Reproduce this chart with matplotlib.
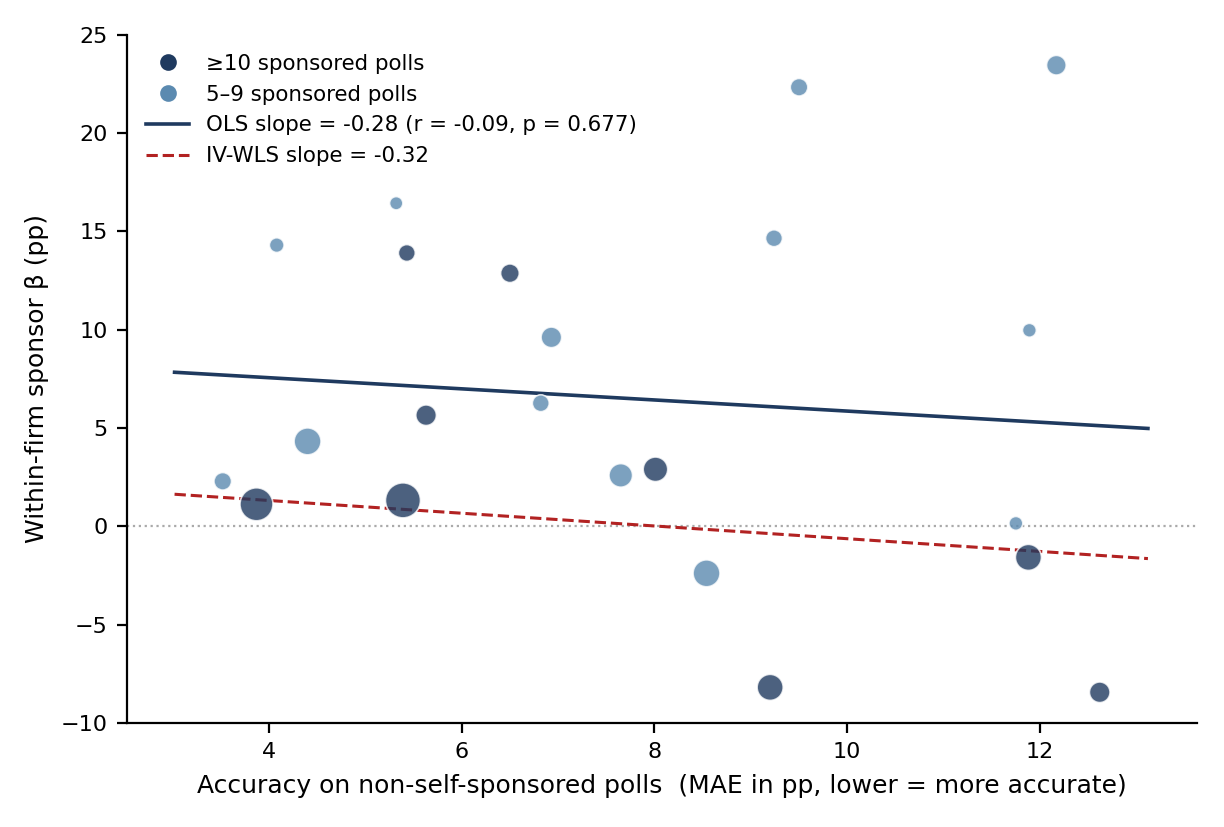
import numpy as np
import matplotlib
matplotlib.use('Agg')
import matplotlib.pyplot as plt
from matplotlib.lines import Line2D

# accuracy (MAE, pp) on non-self-sponsored polls
mae = [3.87, 3.52, 4.08, 4.40, 5.32, 5.43, 5.39, 5.63, 6.50, 6.82, 6.93,
       7.65, 8.01, 8.54, 9.20, 9.24, 9.50, 11.75, 11.89, 11.88, 12.17, 12.62]
# within-firm sponsor beta (pp)
beta = [1.12, 2.29, 14.3, 4.32, 16.43, 13.9, 1.32, 5.65, 12.87, 6.26, 9.61,
        2.59, 2.90, -2.39, -8.19, 14.65, 22.33, 0.15, 9.97, -1.58, 23.45, -8.44]
# precision weight (marker area)
weight = [141, 40, 28, 94, 23, 37, 159, 55, 45, 37, 55,
          72, 78, 94, 88, 37, 40, 25, 25, 88, 50, 55]
# True = >=10 sponsored polls
big = [True, False, False, False, False, True, True, True, True, False, False,
       False, True, False, True, False, False, False, False, True, False, True]

ols_slope, ols_icpt = -0.283, 8.69
wls_slope, wls_icpt = -0.324, 2.61
ols_r, ols_p = -0.09, 0.677

DARK = '#1f3a5f'
LIGHT = '#5b8ab0'

mae = np.array(mae)
beta = np.array(beta)
weight = np.array(weight)
big = np.array(big)

fig = plt.figure(figsize=(6.12, 4.135), dpi=200)
ax = fig.add_axes([0.1038, 0.1258, 0.8742, 0.8322])

ax.axhline(0, color='#aaaaaa', lw=0.8, ls=':', zorder=1)

xs = np.linspace(mae.min() - 0.5, mae.max() + 0.5, 50)
ax.plot(xs, ols_icpt + ols_slope * xs, color=DARK, lw=1.3, zorder=2)
ax.plot(xs, wls_icpt + wls_slope * xs, color='#b22222', lw=1.1, ls='--', zorder=2)

ax.scatter(mae[big], beta[big], s=weight[big], color=DARK, alpha=0.8,
           edgecolor='white', linewidth=0.6, zorder=3)
ax.scatter(mae[~big], beta[~big], s=weight[~big], color=LIGHT, alpha=0.8,
           edgecolor='white', linewidth=0.6, zorder=3)

ax.set_xlim(2.527, 13.63)
ax.set_ylim(-10, 25)
ax.set_xticks([4, 6, 8, 10, 12])
ax.set_yticks([-10, -5, 0, 5, 10, 15, 20, 25])
ax.tick_params(labelsize=8)
ax.spines['top'].set_visible(False)
ax.spines['right'].set_visible(False)
ax.set_xlabel('Accuracy on non-self-sponsored polls  (MAE in pp, lower = more accurate)', fontsize=9)
ax.set_ylabel('Within-firm sponsor β (pp)', fontsize=9)

handles = [
    Line2D([], [], marker='o', ls='none', color=DARK, markersize=5),
    Line2D([], [], marker='o', ls='none', color=LIGHT, markersize=5),
    Line2D([], [], color=DARK, lw=1.3),
    Line2D([], [], color='#b22222', lw=1.1, ls='--'),
]
labels = ['≥10 sponsored polls', '5–9 sponsored polls',
          f'OLS slope = {ols_slope:.2f} (r = {ols_r:.2f}, p = {ols_p:.3f})',
          f'IV-WLS slope = {wls_slope:.2f}']
ax.legend(handles, labels, loc='upper left', frameon=False, fontsize=7.7)

fig.savefig('out.png', dpi=200)
